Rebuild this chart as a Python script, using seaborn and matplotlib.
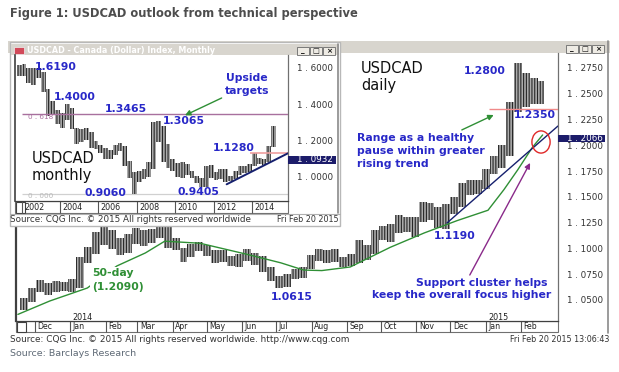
import numpy as np
import pandas as pd
import matplotlib
matplotlib.use('Agg')
import matplotlib.pyplot as plt
import matplotlib.dates as mdates
import matplotlib.transforms as mtransforms
from matplotlib.patches import Rectangle, Ellipse
from matplotlib.colors import LinearSegmentedColormap
import seaborn as sns

sns.set_style('white')
plt.rcParams['font.family'] = ['DejaVu Sans']
plt.rcParams['hatch.linewidth'] = 0.8

# ---------------- DATA : daily chart (read as weekly ranges) ----------------
week_start = ['2013-11-18', '2013-11-25', '2013-12-02', '2013-12-09', '2013-12-16', '2013-12-23', '2013-12-30',
              '2014-01-06', '2014-01-13', '2014-01-20', '2014-01-27', '2014-02-03', '2014-02-10', '2014-02-17',
              '2014-02-24', '2014-03-03', '2014-03-10', '2014-03-17', '2014-03-24', '2014-03-31', '2014-04-07',
              '2014-04-14', '2014-04-21', '2014-04-28', '2014-05-05', '2014-05-12', '2014-05-19', '2014-05-26',
              '2014-06-02', '2014-06-09', '2014-06-16', '2014-06-23', '2014-06-30', '2014-07-07', '2014-07-14',
              '2014-07-21', '2014-07-28', '2014-08-04', '2014-08-11', '2014-08-18', '2014-08-25', '2014-09-01',
              '2014-09-08', '2014-09-15', '2014-09-22', '2014-09-29', '2014-10-06', '2014-10-13', '2014-10-20',
              '2014-10-27', '2014-11-03', '2014-11-10', '2014-11-17', '2014-11-24', '2014-12-01', '2014-12-08',
              '2014-12-15', '2014-12-22', '2014-12-29', '2015-01-05', '2015-01-12', '2015-01-19', '2015-01-26',
              '2015-02-02', '2015-02-09', '2015-02-16']
week_low = [1.040, 1.048, 1.058, 1.055, 1.058, 1.059, 1.058,
            1.062, 1.086, 1.095, 1.103, 1.099, 1.094, 1.096,
            1.104, 1.102, 1.105, 1.110, 1.100, 1.098, 1.087,
            1.092, 1.097, 1.093, 1.086, 1.087, 1.083, 1.082,
            1.088, 1.084, 1.077, 1.068, 1.062, 1.063, 1.070,
            1.071, 1.080, 1.088, 1.086, 1.087, 1.082, 1.083,
            1.086, 1.089, 1.095, 1.108, 1.106, 1.115, 1.116,
            1.111, 1.126, 1.128, 1.120, 1.119, 1.133, 1.140,
            1.152, 1.153, 1.158, 1.172, 1.178, 1.190, 1.232,
            1.237, 1.240, 1.240]
week_high = [1.052, 1.062, 1.069, 1.066, 1.068, 1.067, 1.070,
             1.092, 1.101, 1.116, 1.121, 1.118, 1.110, 1.114,
             1.120, 1.118, 1.119, 1.125, 1.124, 1.110, 1.100,
             1.104, 1.106, 1.103, 1.098, 1.098, 1.093, 1.095,
             1.099, 1.096, 1.093, 1.082, 1.073, 1.075, 1.080,
             1.082, 1.094, 1.099, 1.098, 1.099, 1.092, 1.095,
             1.108, 1.103, 1.118, 1.122, 1.124, 1.132, 1.130,
             1.130, 1.145, 1.144, 1.140, 1.143, 1.150, 1.163,
             1.166, 1.166, 1.177, 1.190, 1.200, 1.242, 1.280,
             1.270, 1.265, 1.262]
last_day = '2015-02-20'

ma_dates = ['2013-11-16', '2013-12-14', '2014-01-16', '2014-02-11', '2014-03-08', '2014-03-25', '2014-04-25',
            '2014-06-04', '2014-07-05', '2014-07-25', '2014-08-10', '2014-09-04', '2014-10-09', '2014-11-08',
            '2014-12-07', '2015-01-03', '2015-01-17', '2015-01-29', '2015-02-11', '2015-02-20']
ma_values = [1.036, 1.049, 1.0616, 1.083, 1.0956, 1.107, 1.105,
             1.0946, 1.086, 1.079, 1.0785, 1.082, 1.101, 1.115,
             1.127, 1.137, 1.157, 1.176, 1.198, 1.210]

trend_dates = ['2014-11-28 00:00', '2015-03-05 12:00']
trend_values = [1.1247, 1.2187]
resist_start, resist_level = '2015-01-04', 1.2350
main_last = 1.2066

main_ticks = [1.05, 1.075, 1.10, 1.125, 1.15, 1.175, 1.20, 1.225, 1.25, 1.275]
main_tick_labels = ['1 . 0500', '1 . 0750', '1 . 1000', '1 . 1250', '1 . 1500', '1 . 1750',
                    '1 . 2000', '1 . 2250', '1 . 2500', '1 . 2750']
month_starts = ['2013-12-01', '2014-01-01', '2014-02-01', '2014-03-01', '2014-04-01', '2014-05-01',
                '2014-06-01', '2014-07-01', '2014-08-01', '2014-09-01', '2014-10-01', '2014-11-01',
                '2014-12-01', '2015-01-01', '2015-02-01']
month_labels = ['Dec', 'Jan', 'Feb', 'Mar', 'Apr', 'May', 'Jun', 'Jul', 'Aug', 'Sep', 'Oct', 'Nov',
                'Dec', 'Jan', 'Feb']

# ---------------- DATA : monthly inset (read as quarterly ranges) ----------------
quarters = ['2001Q4',
            '2002Q1', '2002Q2', '2002Q3', '2002Q4', '2003Q1', '2003Q2', '2003Q3', '2003Q4',
            '2004Q1', '2004Q2', '2004Q3', '2004Q4', '2005Q1', '2005Q2', '2005Q3', '2005Q4',
            '2006Q1', '2006Q2', '2006Q3', '2006Q4', '2007Q1', '2007Q2', '2007Q3', '2007Q4',
            '2008Q1', '2008Q2', '2008Q3', '2008Q4', '2009Q1', '2009Q2', '2009Q3', '2009Q4',
            '2010Q1', '2010Q2', '2010Q3', '2010Q4', '2011Q1', '2011Q2', '2011Q3', '2011Q4',
            '2012Q1', '2012Q2', '2012Q3', '2012Q4', '2013Q1', '2013Q2', '2013Q3', '2013Q4',
            '2014Q1', '2014Q2', '2014Q3', '2014Q4', '2015Q1']
q_low = [1.555,
         1.555, 1.515, 1.505, 1.545, 1.465, 1.335, 1.345, 1.290,
         1.270, 1.310, 1.260, 1.180, 1.190, 1.200, 1.160, 1.150,
         1.130, 1.095, 1.100, 1.120, 1.140, 1.060, 0.990, 0.906,
         0.970, 0.985, 1.000, 1.040, 1.190, 1.080, 1.050, 1.030,
         1.000, 0.995, 1.010, 0.995, 0.965, 0.945, 0.9405, 0.990,
         0.980, 0.985, 0.970, 0.975, 0.985, 1.010, 1.020, 1.025,
         1.060, 1.070, 1.062, 1.080, 1.165]
q_high = [1.615,
          1.619, 1.600, 1.600, 1.600, 1.575, 1.485, 1.415, 1.365,
          1.350, 1.398, 1.380, 1.270, 1.260, 1.270, 1.245, 1.195,
          1.175, 1.160, 1.145, 1.175, 1.187, 1.170, 1.085, 1.025,
          1.030, 1.040, 1.080, 1.300, 1.3065, 1.280, 1.180, 1.100,
          1.075, 1.080, 1.070, 1.030, 1.005, 0.990, 1.060, 1.065,
          1.025, 1.045, 1.040, 1.005, 1.030, 1.060, 1.060, 1.070,
          1.128, 1.105, 1.100, 1.170, 1.280]
fib_start, fib618, fib0 = 2002.0, 1.3465, 0.9060
res_m_start, res_m_level = 2013.9, 1.1280
trend_m_x = [2012.68, 2015.875]
trend_m_y = [0.958, 1.129]
inset_last = 1.0932
inset_ticks = [1.0, 1.2, 1.4, 1.6]
inset_tick_labels = ['1 . 0000', '1 . 2000', '1 . 4000', '1 . 6000']
inset_years = [2002, 2004, 2006, 2008, 2010, 2012, 2014]

# ---------------- STYLE ----------------
BLUE = '#2828c8'
GREEN = '#2f8f35'
NAVY = '#16206e'
PURPLE = '#8a2a8a'
BAR_FACE = '#acacac'
BAR_HATCH = '#262626'
HATCH = '||||||'

W, H = 619, 372
fig = plt.figure(figsize=(W / 100, H / 100), dpi=100)
fig.patch.set_facecolor('white')
PX = mtransforms.Affine2D().scale(1 / W, -1 / H).translate(0, 1) + fig.transFigure


def dnum(s):
    return mdates.date2num(pd.Timestamp(s))


def rect(x0, y0, x1, y1):
    return [x0 / W, 1 - y1 / H, (x1 - x0) / W, (y1 - y0) / H]


def overlay(z):
    a = fig.add_axes([0, 0, 1, 1], zorder=z)
    a.set_axis_off()
    return a


def buttons(a, x0, y0):
    for i, g in enumerate(['_', '□', '×']):
        bx = x0 + i * 13
        a.add_patch(Rectangle((bx, y0), 12, 8, facecolor='#eeebe4', edgecolor='#6a6a6a', lw=0.6))
        a.text(bx + 6, y0 + 4.2, g, ha='center', va='center', fontsize=5.2, color='#111111',
               fontweight='bold')


def gradient(a, x0, x1, y0, y1, c0, c1):
    cmap = LinearSegmentedColormap.from_list('g', [c0, c1])
    a.imshow(np.linspace(0, 1, 256).reshape(1, -1), extent=(x0, x1, y1, y0), cmap=cmap,
             aspect='auto', interpolation='bilinear')


# ---------- background chrome ----------
bg = overlay(0)
bg.text(10, 14, 'Figure 1: USDCAD outlook from technical perspective', fontsize=8.3,
        fontweight='bold', color='#4d4d4d', va='center', ha='left')
bg.add_patch(Rectangle((8, 41), 602, 12, facecolor='#d8d5ce', edgecolor='none'))
gradient(bg, 10, 558, 44, 53, '#8ca6d3', '#d6dfee')
buttons(bg, 566, 44.5)
bg.plot([608, 608], [41, 333], color='#8a8a8a', lw=1.2)
bg.add_patch(Rectangle((16, 321), 542, 11, facecolor='white', edgecolor='#707070', lw=0.8))
bg.add_patch(Rectangle((16.5, 321.5), 9, 10, facecolor='white', edgecolor='#404040', lw=0.8))
bg.text(10, 339.5, 'Source: CQG Inc. © 2015 All rights reserved worldwide. http://www.cqg.com',
        fontsize=6.4, color='#333333', va='center', ha='left')
bg.text(609, 339.5, 'Fri Feb 20 2015 13:06:43', fontsize=5.8, color='#333333', va='center', ha='right')
bg.text(10, 354, 'Source: Barclays Research', fontsize=6.8, color='#5f6a76', va='center', ha='left')
bg.set_xlim(0, W)
bg.set_ylim(H, 0)

# ---------- main daily chart ----------
ax = fig.add_axes(rect(16, 53, 558, 321), zorder=1)
ax.set_facecolor('white')
wx = np.array([dnum(s) for s in week_start])
wwidth = np.append(np.diff(wx), dnum(last_day) - wx[-1] + 1)
lo = np.array(week_low)
hi = np.array(week_high)
ax.bar(wx, hi - lo, bottom=lo, width=wwidth, align='edge', color=BAR_FACE, edgecolor=BAR_HATCH,
       linewidth=0, hatch=HATCH, zorder=2)

ma_x = np.array([dnum(s) for s in ma_dates])
sns.lineplot(x=ma_x, y=ma_values, ax=ax, color=GREEN, linewidth=1.0, zorder=3)
tr_x = np.array([dnum(s) for s in trend_dates])
sns.lineplot(x=tr_x, y=trend_values, ax=ax, color=NAVY, linewidth=1.0, zorder=4)

x_left = dnum('2013-11-14 08:00')
x_right = dnum('2015-03-05 12:00')
ax.hlines(resist_level, dnum(resist_start), x_right, color='#f08a8a', lw=1.0, zorder=3)
ax.add_patch(Ellipse((dnum('2015-02-18 14:00'), 1.2032), 16, 0.0215,
                     facecolor='none', edgecolor='#e02828', lw=1.0, zorder=5))
ax.annotate('', xy=(dnum('2015-02-09'), 1.1829), xytext=(dnum('2014-12-18'), 1.0742),
            arrowprops=dict(arrowstyle='-|>', color=PURPLE, lw=1.0, mutation_scale=8,
                            shrinkA=0, shrinkB=0), zorder=5)
ax.annotate('', xy=(dnum('2015-01-08'), 1.2294), xytext=(dnum('2014-12-11'), 1.2149),
            arrowprops=dict(arrowstyle='-|>', color=GREEN, lw=1.0, mutation_scale=8,
                            shrinkA=0, shrinkB=0), zorder=5)

ax.set_xlim(x_left, x_right)
ax.set_ylim(1.0296, 1.2895)
ax.spines['top'].set_visible(False)
ax.spines['left'].set_linewidth(1.6)
ax.spines['left'].set_color('#404040')
ax.spines['bottom'].set_linewidth(0.9)
ax.spines['bottom'].set_color('#404040')
ax.spines['right'].set_linewidth(0.9)
ax.spines['right'].set_color('#707070')

ax.yaxis.tick_right()
ax.set_yticks(main_ticks)
ax.set_yticklabels(main_tick_labels)
ax.tick_params(axis='y', length=0, pad=6.3, labelsize=6.3, labelcolor='#333333')
mx = np.array([dnum(s) for s in month_starts])
ax.set_xticks(mx)
ax.set_xticklabels([])
ax.tick_params(axis='x', direction='out', length=7.9, width=0.8, color='#555555', bottom=True)
ax.set_xlabel('')
ax.set_ylabel('')

bt = mtransforms.blended_transform_factory(ax.transData, ax.transAxes)
off = mtransforms.ScaledTranslation(2.5 / 100, 0, fig.dpi_scale_trans)
for d, lab in zip(mx, month_labels):
    ax.text(d, -5.6 / 268, lab, transform=bt + off, ha='left', va='center', fontsize=5.6,
            color='#222222', clip_on=False)
for d, lab in [(dnum('2014-01-01'), '2014'), (dnum('2015-01-01'), '2015')]:
    ax.text(d, 3.5 / 268, lab, transform=bt + off, ha='left', va='center', fontsize=5.8,
            color='#222222', clip_on=False)

br = mtransforms.blended_transform_factory(ax.transAxes, ax.transData)
ax.add_patch(Rectangle((1.0, main_last - 0.0035), 47 / 542, 0.0070, transform=br, facecolor='#1c1c6a',
                       edgecolor='none', clip_on=False, zorder=6))
ax.text(1.0 + 8.7 / 542, main_last, '1 . 2066', transform=br, color='white', fontsize=6.3,
        va='center', ha='left', clip_on=False, zorder=7)

lbl = dict(transform=PX, fontsize=7.8, fontweight='bold', color=BLUE, va='center', clip_on=False, zorder=8)
ax.text(361, 77.1, 'USDCAD\ndaily', transform=PX, fontsize=10.5, color='#111111', va='center',
        ha='left', linespacing=1.15)
ax.text(485, 70.7, '1.2800', ha='center', **lbl)
ax.text(534.5, 115, '1.2350', ha='center', **lbl)
ax.text(357, 150.6, 'Range as a healthy\npause within greater\nrising trend', ha='left',
        multialignment='left', linespacing=1.37, **lbl)
ax.text(454.5, 236, '1.1190', ha='center', **lbl)
ax.text(291.5, 297.3, '1.0615', ha='center', **lbl)
ax.text(481.5, 283.3, 'Support cluster helps', ha='center', **lbl)
ax.text(462, 295.2, 'keep the overall focus higher', ha='center', **lbl)
glbl = dict(lbl)
glbl['color'] = GREEN
glbl['bbox'] = dict(facecolor='white', edgecolor='none', pad=1.2)
ax.text(92, 280.4, '50-day\n(1.2090)', ha='left', multialignment='left', linespacing=1.5, **glbl)

# ---------- inset window chrome ----------
iw = overlay(2)
iw.add_patch(Rectangle((10, 42), 330, 184, facecolor='white', edgecolor='#b8b8b8', lw=1.0))
iw.add_patch(Rectangle((11, 44), 328, 11, facecolor='#d8d5ce', edgecolor='none'))
gradient(iw, 12, 288, 45, 55, '#1c4a9e', '#a9c0e4')
iw.add_patch(Rectangle((14, 46.5), 10, 7, facecolor='#d24a5a', edgecolor='#f0f0f0', lw=0.5))
iw.text(27, 50.2, 'USDCAD - Canada (Dollar) Index, Monthly', fontsize=5.8, fontweight='bold',
        color='white', va='center', ha='left')
buttons(iw, 297, 46.5)
iw.plot([338, 338], [44, 213], color='#8a8a8a', lw=1.2)
iw.add_patch(Rectangle((15, 201), 273, 12, facecolor='white', edgecolor='#707070', lw=0.8))
iw.add_patch(Rectangle((15.5, 201.5), 9.5, 11, facecolor='white', edgecolor='#404040', lw=0.8))
iw.plot([10, 340], [213.5, 213.5], color='#b0b0b0', lw=0.8)
iw.text(10, 220, 'Source: CQG Inc. © 2015 All rights reserved worldwide', fontsize=6.3,
        color='#333333', va='center', ha='left')
iw.text(339, 220, 'Fri Feb 20 2015', fontsize=5.8, color='#333333', va='center', ha='right')
iw.set_xlim(0, W)
iw.set_ylim(H, 0)

# ---------- inset monthly chart ----------
ai = fig.add_axes(rect(15, 55, 288, 201), zorder=3)
ai.set_facecolor('white')
qp = pd.PeriodIndex(quarters, freq='Q')
qx = np.asarray(qp.year + (qp.quarter - 1) / 4.0, dtype=float)
ql = np.array(q_low)
qh = np.array(q_high)
ai.bar(qx, qh - ql, bottom=ql, width=0.25, align='edge', color=BAR_FACE, edgecolor=BAR_HATCH,
       linewidth=0, hatch=HATCH, zorder=2)
ix_left, ix_right = 2001.66, 2015.875
ai.hlines(fib618, fib_start, ix_right, color='#a8709e', lw=1.0, zorder=3)
ai.hlines(fib0, fib_start, ix_right, color='#d0d0d0', lw=0.9, zorder=1)
ai.hlines(res_m_level, res_m_start, ix_right, color='#f0a0a0', lw=1.2, zorder=3)
sns.lineplot(x=trend_m_x, y=trend_m_y, ax=ai, color=NAVY, linewidth=1.4, zorder=4)
ai.annotate('', xy=(2010.51, 1.338), xytext=(2012.42, 1.4336),
            arrowprops=dict(arrowstyle='-|>', color=GREEN, lw=1.0, mutation_scale=8,
                            shrinkA=0, shrinkB=0), zorder=5)
ai.set_xlim(ix_left, ix_right)
ai.set_ylim(0.866, 1.6705)
ai.spines['top'].set_visible(False)
ai.spines['left'].set_linewidth(1.2)
ai.spines['left'].set_color('#404040')
ai.spines['bottom'].set_linewidth(0.9)
ai.spines['bottom'].set_color('#404040')
ai.spines['right'].set_linewidth(0.9)
ai.spines['right'].set_color('#707070')
ai.yaxis.tick_right()
ai.set_yticks(inset_ticks)
ai.set_yticklabels(inset_tick_labels)
ai.tick_params(axis='y', length=0, pad=6.3, labelsize=6.3, labelcolor='#333333')
ai.set_xticks(inset_years)
ai.set_xticklabels([])
ai.tick_params(axis='x', direction='out', length=8.6, width=0.8, color='#555555', bottom=True)
ai.set_xlabel('')
ai.set_ylabel('')
bti = mtransforms.blended_transform_factory(ai.transData, ai.transAxes)
offi = mtransforms.ScaledTranslation(2.5 / 100, 0, fig.dpi_scale_trans)
for yv in inset_years:
    ai.text(yv, -6.0 / 146, str(yv), transform=bti + offi, ha='left', va='center', fontsize=5.8,
            color='#222222', clip_on=False)
bri = mtransforms.blended_transform_factory(ai.transAxes, ai.transData)
ai.add_patch(Rectangle((1.0, inset_last - 0.022), 48 / 273, 0.044, transform=bri, facecolor='#1c1c6a',
                       edgecolor='none', clip_on=False, zorder=6))
ai.text(1.0 + 8.7 / 273, inset_last, '1 . 0932', transform=bri, color='white', fontsize=6.3,
        va='center', ha='left', clip_on=False, zorder=7)

ai.text(56, 67, '1.6190', ha='center', **lbl)
ai.text(74.5, 97, '1.4000', ha='center', **lbl)
ai.text(126, 108.5, '1.3465', ha='center', **lbl)
ai.text(184, 121, '1.3065', ha='center', **lbl)
ai.text(247, 84.3, 'Upside\ntargets', ha='center', multialignment='center', linespacing=1.37, **lbl)
ai.text(234, 148, '1.1280', ha='center', **lbl)
ai.text(105, 192.7, '0.9060', ha='center', **lbl)
ai.text(198, 191.7, '0.9405', ha='center', **lbl)
ai.text(28, 117, '0 . 618', transform=PX, fontsize=5.2, color='#a8709e', va='center', ha='left')
ai.text(28, 196, '0 . 000', transform=PX, fontsize=5.2, color='#b8b8b8', va='center', ha='left')
ai.text(32, 167, 'USDCAD\nmonthly', transform=PX, fontsize=10.5, color='#111111', va='center',
        ha='left', linespacing=1.15)

fig.savefig('out.png', dpi=100, facecolor='white')
